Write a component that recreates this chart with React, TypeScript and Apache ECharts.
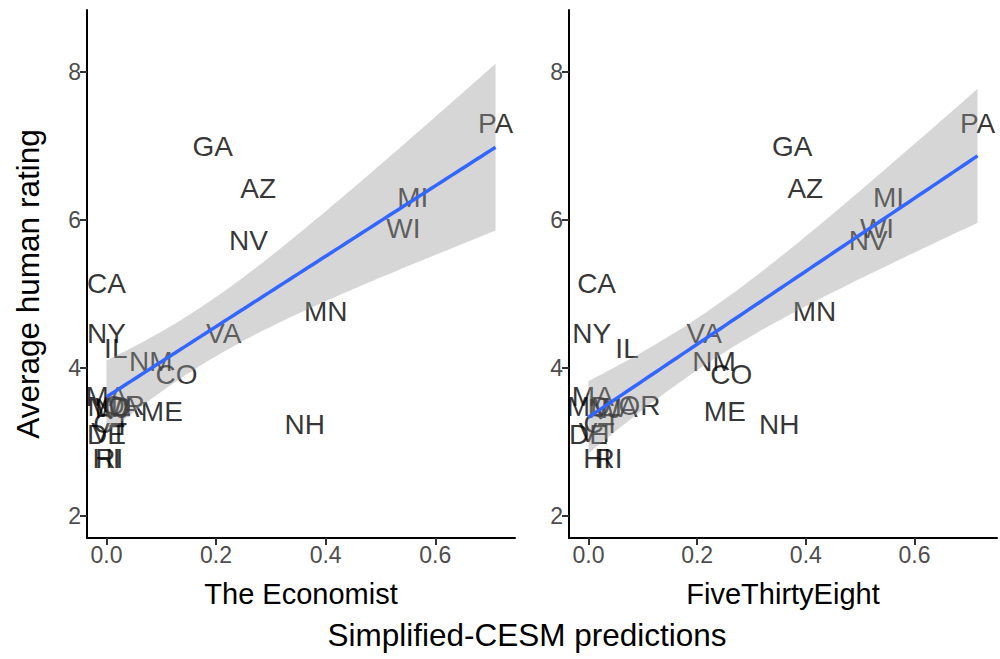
import React, { useEffect, useRef } from "react";
import * as echarts from "echarts";

const states = ["PA","GA","AZ","MI","WI","NV","CA","MN","NY","VA","IL","NM","CO","ME","NH","MA","MD","NJ","OR","WA","DE","VT","CT","HI","RI"];
const humanRating = [7.31,7.0,6.42,6.31,5.88,5.72,5.14,4.76,4.46,4.47,4.26,4.09,3.91,3.41,3.23,3.62,3.48,3.45,3.49,3.47,3.10,3.12,3.25,2.77,2.77];
const economist = [0.71,0.194,0.277,0.559,0.542,0.259,0.0,0.40,0.0,0.214,0.017,0.081,0.128,0.101,0.362,0.0,0.005,0.01,0.032,0.02,0.0,0.005,0.01,0.0,0.005];
const fiveThirtyEight = [0.716,0.375,0.399,0.552,0.531,0.515,0.015,0.416,0.006,0.213,0.071,0.231,0.263,0.251,0.351,0.008,0.0,0.03,0.094,0.05,0.0,0.015,0.025,0.016,0.037];
const xTicks = [0, 0.2, 0.4, 0.6];
const yTicks = [2, 4, 6, 8];
const yRange = [1.7, 8.84];

const FONT = "Liberation Sans, Arial, Helvetica, sans-serif";

function tQuantile975(df: number) {
  const z = 1.959964;
  const z3 = z * z * z, z5 = z3 * z * z, z7 = z5 * z * z;
  return z + (z3 + z) / (4 * df) + (5 * z5 + 16 * z3 + 3 * z) / (96 * df * df) +
    (3 * z7 + 19 * z5 + 17 * z3 - 15 * z) / (384 * df * df * df);
}

function fit(xs: number[], ys: number[]) {
  const n = xs.length;
  const xbar = xs.reduce((a, b) => a + b, 0) / n;
  const ybar = ys.reduce((a, b) => a + b, 0) / n;
  let sxx = 0, sxy = 0;
  for (let i = 0; i < n; i++) {
    sxx += (xs[i] - xbar) ** 2;
    sxy += (xs[i] - xbar) * (ys[i] - ybar);
  }
  const b = sxy / sxx;
  const a = ybar - b * xbar;
  let sse = 0;
  for (let i = 0; i < n; i++) sse += (ys[i] - a - b * xs[i]) ** 2;
  const s = Math.sqrt(sse / (n - 2));
  const t = tQuantile975(n - 2);
  const x0 = Math.min(...xs), x1 = Math.max(...xs);
  const N = 80;
  const line: number[][] = [], upper: number[][] = [], lower: number[][] = [];
  for (let k = 0; k < N; k++) {
    const x = x0 + (x1 - x0) * k / (N - 1);
    const yh = a + b * x;
    const se = s * Math.sqrt(1 / n + (x - xbar) ** 2 / sxx);
    line.push([x, yh]);
    upper.push([x, yh + t * se]);
    lower.push([x, yh - t * se]);
  }
  return { line, upper, lower, x0, x1 };
}

function panel(idx: number, xs: number[], title: string) {
  const f = fit(xs, humanRating);
  const pad = 0.05 * (f.x1 - f.x0);
  const xAxis = {
    type: "value", gridIndex: idx, min: f.x0 - pad, max: f.x1 + pad,
    name: title, nameLocation: "middle", nameGap: 41,
    nameTextStyle: { fontSize: 29, color: "#000", fontFamily: FONT },
    axisLine: { show: true, onZero: false, lineStyle: { color: "#000", width: 2 } },
    axisTick: { show: true, length: 7, customValues: xTicks, lineStyle: { color: "#333", width: 2 } },
    axisLabel: { customValues: xTicks, formatter: (v: number) => v.toFixed(1), color: "#4d4d4d", fontSize: 23, margin: 5, fontFamily: FONT },
    splitLine: { show: false },
  };
  const yAxis = {
    type: "value", gridIndex: idx, min: yRange[0], max: yRange[1],
    axisLine: { show: true, onZero: false, lineStyle: { color: "#000", width: 2 } },
    axisTick: { show: true, length: 7, customValues: yTicks, lineStyle: { color: "#333", width: 2 } },
    axisLabel: { customValues: yTicks, color: "#4d4d4d", fontSize: 23, margin: 6, fontFamily: FONT },
    splitLine: { show: false },
  };
  const series = [
    {
      type: "scatter", xAxisIndex: idx, yAxisIndex: idx, symbolSize: 0, z: 1, silent: true,
      data: states.map((s, i) => ({ name: s, value: [xs[i], humanRating[i]] })),
      label: { show: true, position: "inside", formatter: "{b}", fontSize: 28, color: "#000", fontFamily: FONT },
    },
    {
      type: "custom", xAxisIndex: idx, yAxisIndex: idx, z: 3, silent: true,
      data: [[f.x0, f.line[0][1]]],
      renderItem: (_p: any, api: any) => {
        const pts = f.upper.map((p) => api.coord(p)).concat(f.lower.slice().reverse().map((p) => api.coord(p)));
        return { type: "polygon", shape: { points: pts }, style: { fill: "rgba(153,153,153,0.4)" } };
      },
    },
    {
      type: "line", xAxisIndex: idx, yAxisIndex: idx, z: 4, silent: true, showSymbol: false,
      data: f.line, lineStyle: { color: "#3366FF", width: 3.5 },
    },
  ];
  return { xAxis, yAxis, series };
}

export default function App() {
  const ref = useRef<HTMLDivElement>(null);
  useEffect(() => {
    document.body.style.margin = "0";
    const chart = echarts.init(ref.current!, undefined, { renderer: "svg" });
    const p0 = panel(0, economist, "The Economist");
    const p1 = panel(1, fiveThirtyEight, "FiveThirtyEight");
    chart.setOption({
      animation: false,
      backgroundColor: "#fff",
      grid: [
        { left: 87, top: 10, width: 428, height: 528 },
        { left: 569, top: 10, width: 428, height: 528 },
      ],
      xAxis: [p0.xAxis, p1.xAxis],
      yAxis: [p0.yAxis, p1.yAxis],
      series: [...p0.series, ...p1.series],
      graphic: [
        {
          type: "text", x: 28, y: 284, rotation: Math.PI / 2,
          style: { text: "Average human rating", fontSize: 31.5, fill: "#000", fontFamily: FONT, textAlign: "center", textVerticalAlign: "middle" },
        },
        {
          type: "text", x: 527, y: 635,
          style: { text: "Simplified-CESM predictions", fontSize: 31.5, fill: "#000", fontFamily: FONT, textAlign: "center", textVerticalAlign: "middle" },
        },
      ],
    });
    return () => chart.dispose();
  }, []);
  return <div ref={ref} style={{ width: 1000, height: 659 }} />;
}
